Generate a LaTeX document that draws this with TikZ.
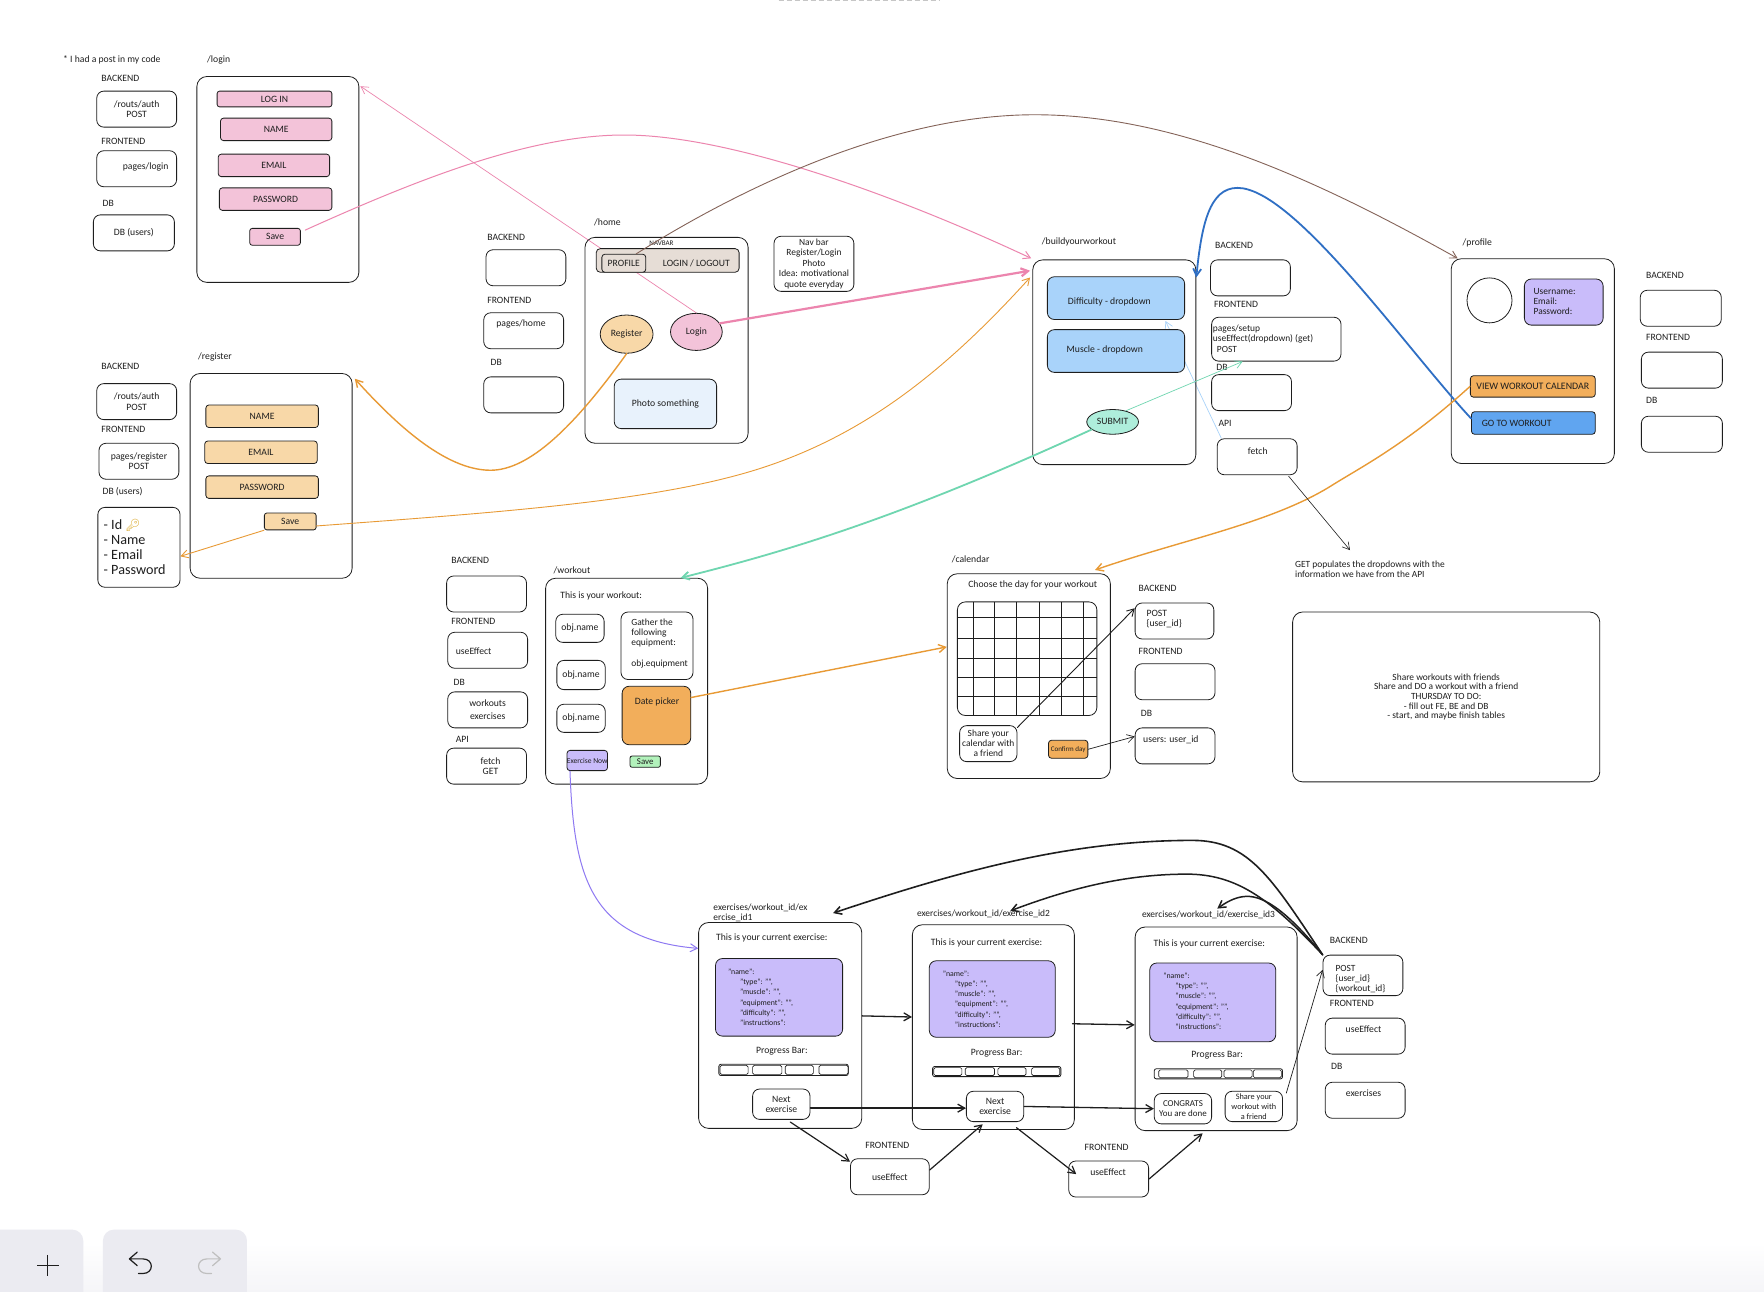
\documentclass[tikz,border=0pt]{standalone}
\usepackage{fontspec}
\setmainfont[Scale=1.18]{Carlito}
\newfontfamily\emojifont{Noto Emoji}
\usetikzlibrary{arrows.meta,calc,shapes.geometric}
\pgfdeclarelayer{bg}
\pgfsetlayers{bg,main}
\definecolor{ink}{HTML}{1E1E1E}
\definecolor{pinkf}{HTML}{F3C3D9}
\definecolor{peachf}{HTML}{F8D8A8}
\definecolor{navf}{HTML}{E6DDD6}
\definecolor{paleb}{HTML}{E8F2FC}
\definecolor{blues}{HTML}{A9D3FA}
\definecolor{mint}{HTML}{AEEEDB}
\definecolor{lilac}{HTML}{C9BCFA}
\definecolor{orangef}{HTML}{F2AE5B}
\definecolor{bluef}{HTML}{60A5F0}
\definecolor{greenf}{HTML}{B2F2BB}
\definecolor{pinkl}{HTML}{EC85AE}
\definecolor{orangel}{HTML}{E89A35}
\definecolor{brownl}{HTML}{846358}
\definecolor{bluel}{HTML}{2F6FC4}
\definecolor{greenl}{HTML}{6FD6B0}
\definecolor{purplel}{HTML}{8E79F2}
\definecolor{lightbl}{HTML}{A9D3FA}
\definecolor{keygold}{HTML}{D9A521}
\definecolor{tool}{HTML}{EBEBF1}
\tikzset{
  boxs/.style={draw=ink,line width=0.8pt,rounded corners=7pt,inner sep=0pt},
  frames/.style={boxs,rounded corners=10pt},
  txt/.style={inner sep=0pt,text=ink,align=center,font=\fontsize{8.2}{10.4}\selectfont},
  txtl/.style={txt,align=left},
  oval/.style={ellipse,draw=ink,line width=0.8pt,inner sep=0pt},
  conn/.style={-{Straight Barb[length=7pt,width=8pt]},line cap=round},
}
\newcommand{\bx}[7][]{%
  \node[#6,minimum width={(#4-#2)*1.125pt},minimum height={(#5-#3)*1.125pt}] (#1name) at ({(#2+#4)/2},{(#3+#5)/2}) {};}
\renewcommand{\bx}[8][]{%
  \node[#7,minimum width={(#5-#3)*1.125pt},minimum height={(#6-#4)*1.125pt}] (#2) at ({(#3+#5)/2},{(#4+#6)/2}) {};
  \node[txt,#1] (#2t) at (#2.center) {#8};}
\newcommand{\tx}[6][]{\node[txt,anchor=#5,#1] (#2) at (#3,#4) {#6};}
\newcommand{\codetext}{"name":\\
\hspace*{12pt}"type": "",\\
\hspace*{12pt}"muscle": "",\\
\hspace*{12pt}"equipment": "",\\
\hspace*{12pt}"difficulty": "",\\
\hspace*{12pt}"instructions":}
\begin{document}
\begin{tikzpicture}[x=1.125pt,y=-1.125pt]
\useasboundingbox (0,0) rectangle (1568,1148.44);
\begin{pgfonlayer}{bg}
\fill[white] (0,0) rectangle (1568,1148.44);
\shade[top color=white,bottom color=tool!50] (0,1105) rectangle (1568,1148.44);
\draw[gray!45,line width=1.4pt,dash pattern=on 5pt off 3pt] (692,0.6) -- (835,0.6);
\end{pgfonlayer}

% ---- toolbar
\fill[tool,rounded corners=11pt] (-20,1093) rectangle (74,1170);
\fill[tool,rounded corners=11pt] (91.5,1093) rectangle (219.5,1170);
\draw[ink,line width=1.2pt] (33,1125) -- (52,1125) (42.5,1115.5) -- (42.5,1134.5);
\draw[ink,line width=1.2pt,line cap=round,line join=round] (122,1113) -- (115,1119) -- (122,1125) (115,1119) -- (127,1119) .. controls (137,1119) and (137,1132) .. (127,1132) -- (123,1132);
\draw[gray!50,line width=1.2pt,line cap=round,line join=round] (189,1113) -- (196,1119) -- (189,1125) (196,1119) -- (184,1119) .. controls (174,1119) and (174,1132) .. (184,1132) -- (188,1132);

% ---- login column
\tx{note1}{56}{53}{west}{* I had a post in my code}
\tx{lblogin}{184}{53}{west}{/login}
\tx{la1}{90}{70}{west}{BACKEND}
\bx{lbe}{86}{81}{157}{113}{boxs}{/routs/auth\\POST}
\tx{la2}{90}{126}{west}{FRONTEND}
\bx{lfe}{86}{134}{157}{166}{boxs}{}
\tx{lfet}{109}{148}{west}{pages/login}
\tx{la3}{91}{181}{west}{DB}
\bx{ldb}{83}{191}{155}{223}{boxs}{DB (users)}
\bx{flogin}{175}{68}{319}{251}{frames}{}
\bx{llog}{193}{81}{295}{95}{boxs,fill=pinkf,rounded corners=2.5pt}{LOG IN}
\bx{lname}{196}{105}{295}{125}{boxs,fill=pinkf,rounded corners=3pt}{NAME}
\bx{lmail}{194}{137}{293}{157}{boxs,fill=pinkf,rounded corners=3pt}{EMAIL}
\bx{lpass}{195}{167}{295}{187}{boxs,fill=pinkf,rounded corners=3pt}{PASSWORD}
\bx{lsave}{222}{203}{267}{218}{boxs,fill=pinkf,rounded corners=2.5pt}{Save}

% ---- register column
\tx{lbreg}{176}{317}{west}{/register}
\tx{ra1}{90}{326}{west}{BACKEND}
\bx{rbe}{86}{341}{157}{373}{boxs}{/routs/auth\\POST}
\tx{ra2}{90}{382}{west}{FRONTEND}
\bx{rfe}{88}{394}{159}{426}{boxs}{pages/register\\POST}
\tx{ra3}{91}{437}{west}{DB (users)}
\bx{keybox}{87}{451}{160}{522}{boxs}{}
\node[txtl,anchor=west,font=\fontsize{12}{15}\selectfont] (keytext) at (92,486) {- Id {\emojifont\textcolor{keygold}{🔑}}\\- Name\\- Email\\- Password};
\bx{freg}{169}{332}{313}{514}{frames}{}
\bx{rname}{183}{360}{283}{380}{boxs,fill=peachf,rounded corners=3pt}{NAME}
\bx{rmail}{182}{392}{282}{412}{boxs,fill=peachf,rounded corners=3pt}{EMAIL}
\bx{rpass}{183}{423}{283}{443}{boxs,fill=peachf,rounded corners=3pt}{PASSWORD}
\bx{rsave}{235}{456}{281}{471}{boxs,fill=peachf,rounded corners=2.5pt}{Save}

% ---- home
\tx{lbhome}{528}{198}{west}{/home}
\tx{ha1}{433}{211}{west}{BACKEND}
\bx{hbe}{432}{222}{503}{254}{boxs}{}
\tx{ha2}{433}{267}{west}{FRONTEND}
\bx{hfe}{430}{278}{501}{310}{boxs}{}
\tx{hfet}{441}{288}{west}{pages/home}
\tx{ha3}{436}{322}{west}{DB}
\bx{hdb}{430}{335}{501}{367}{boxs}{}
\bx{fhome}{520}{211}{665}{394}{frames}{}
\node[oval,fill=peachf,minimum width={47*1.125pt},minimum height={34*1.125pt}] (btnreg) at (557,297) {};
\node[txt] (btnregt) at (btnreg.center) {Register};
\node[oval,fill=pinkf,minimum width={46*1.125pt},minimum height={33*1.125pt}] (btnlogin) at (619,295) {};
\node[txt] (btnlogint) at (btnlogin.center) {Login};
\bx{photo}{546}{337}{637}{381}{boxs,fill=paleb}{Photo something}
\bx[font=\fontsize{8}{10.6}\selectfont]{navnote}{688}{210}{759}{259}{boxs}{Nav bar\\Register/Login\\Photo\\Idea: motivational\\quote everyday}

% thin pink passes behind the navbar
\begin{pgfonlayer}{bg}
\draw[conn,pinkl,line width=0.7pt] (btnlogin.north) -- ([shift={(1,9)}]flogin.north east);
\end{pgfonlayer}
\bx{navb}{530}{221}{657}{242}{boxs,fill=navf,rounded corners=4pt}{}
\tx[font=\fontsize{6}{8}\selectfont]{navt}{588}{216.5}{center}{NAVBAR}
\bx{prof}{535}{226}{574}{242}{boxs,fill=navf,rounded corners=3pt}{PROFILE}
\tx{logout}{619}{234}{center}{LOGIN / LOGOUT}

% ---- build your workout
\tx{lbbuild}{926}{215}{west}{/buildyourworkout}
\bx{fbuild}{918}{231}{1063}{413}{frames}{}
\tx{ba1}{1080}{218}{west}{BACKEND}
\bx{bbe}{1076}{231}{1147}{263}{boxs}{}
\tx{ba2}{1079}{271}{west}{FRONTEND}
\bx{setup}{1077}{282}{1192}{321}{boxs}{}
\node[txtl,anchor=west,font=\fontsize{8}{10.2}\selectfont] (setupt) at (1078,301) {pages/setup\\useEffect(dropdown) (get)\\\hspace*{4pt}POST};
\tx{ba3}{1081}{327}{west}{DB}
\bx{bdb}{1077}{333}{1148}{365}{boxs}{}
\tx{ba4}{1083}{376}{west}{API}
\bx{fetch}{1082}{390}{1153}{422}{boxs}{}
\tx{fetcht}{1118}{401}{center}{fetch}
\coordinate (getend) at (1200,489);
\bx{diff}{931}{246}{1053}{284}{boxs,fill=blues}{}
\tx{difft}{949}{268}{west}{Difficulty - dropdown}
\begin{pgfonlayer}{bg}
\draw[conn,lightbl,line width=0.7pt] ([shift={(4,0)}]fetch.north west) -- ([shift={(44,1)}]diff.south);
\end{pgfonlayer}
\bx{muscle}{931}{293}{1053}{331}{boxs,fill=blues}{}
\tx{musclet}{948}{311}{west}{Muscle - dropdown}
\node[txtl,anchor=west,font=\fontsize{8}{10.2}\selectfont] (gettext) at (1151,506) {GET populates the dropdowns with the\\information we have from the API};

% ---- profile
\tx{lbprof}{1300}{216}{west}{/profile}
\bx{fprof}{1290}{230}{1435}{412}{frames}{}
\node[oval,minimum width={40*1.125pt},minimum height={40*1.125pt}] (avatar) at (1324,267) {};
\bx{udata}{1355}{248}{1425}{289}{boxs,fill=lilac}{}
\node[txtl,anchor=west,font=\fontsize{8}{10.2}\selectfont] (udatat) at (1363,268) {Username:\\Email:\\Password:};
\bx[font=\fontsize{8.4}{9}\selectfont]{view}{1307}{334}{1418}{353}{boxs,fill=orangef,rounded corners=3pt}{VIEW WORKOUT CALENDAR}
\bx{go}{1308}{366}{1418}{386}{boxs,fill=bluef,rounded corners=3pt}{}
\tx{got}{1317}{376}{west}{GO TO WORKOUT}
\tx{pa1}{1463}{245}{west}{BACKEND}
\bx{pbe}{1458}{258}{1530}{290}{boxs}{}
\tx{pa2}{1463}{300}{west}{FRONTEND}
\bx{pfe}{1459}{313}{1531}{345}{boxs}{}
\tx{pa3}{1463}{356}{west}{DB}
\bx{pdb}{1459}{370}{1531}{402}{boxs}{}

% ---- workout
\tx{wa1}{401}{498}{west}{BACKEND}
\bx{wbe}{397}{512}{468}{544}{boxs}{}
\tx{wa2}{401}{552}{west}{FRONTEND}
\bx{wfe}{398}{562}{469}{594}{boxs}{}
\tx{wfet}{405}{579}{west}{useEffect}
\tx{wa3}{403}{607}{west}{DB}
\bx[font=\fontsize{8.2}{13}\selectfont]{wdb}{398}{615}{469}{647}{boxs}{workouts\\exercises}
\tx{wa4}{405}{657}{west}{API}
\bx{wapi}{397}{665}{468}{697}{boxs}{}
\tx{wapit}{436}{681}{center}{fetch\\GET}
\tx{lbwork}{492}{507}{west}{/workout}
\bx{fwork}{485}{514}{629}{697}{frames}{}
\tx{wtitle}{498}{530}{west}{This is your workout:}
\bx{ob1}{494}{546}{537}{571}{boxs}{obj.name}
\bx{ob2}{495}{587}{538}{613}{boxs}{obj.name}
\bx{ob3}{495}{626}{538}{651}{boxs}{obj.name}
\bx{gather}{552}{544}{616}{604}{boxs}{}
\node[txtl,anchor=west,font=\fontsize{8}{10.2}\selectfont] (gathert) at (561,572) {Gather the\\following\\equipment:\\~\\obj.equipment};
\bx{date}{553}{610}{614}{662}{boxs,fill=orangef}{}
\tx{datet}{584}{624}{center}{Date picker}
\bx[font=\fontsize{6.4}{8}\selectfont]{exnow}{504}{667}{540}{685}{boxs,fill=lilac,rounded corners=3pt}{Exercise Now}
\bx[font=\fontsize{7.5}{8}\selectfont]{wsave}{560}{672}{587}{682}{boxs,fill=greenf,rounded corners=2pt}{Save}

% ---- calendar
\tx{lbcal}{846}{497}{west}{/calendar}
\bx{fcal}{842}{510}{987}{692}{frames}{}
\tx{caltitle}{918}{520}{center}{Choose the day for your workout}
\bx{grid}{851}{535}{975}{636}{boxs,rounded corners=8pt}{}
\foreach \gx in {865,884,903,924,943,963} \draw[ink,line width=0.7pt] (\gx,535) -- (\gx,636);
\foreach \gy in {549,567,585,602,619} \draw[ink,line width=0.7pt] (851,\gy) -- (975,\gy);
\bx[font=\fontsize{8}{10}\selectfont]{sharec}{853}{645}{904}{677}{boxs}{Share your\\calendar with\\a friend}
\bx[font=\fontsize{6}{8}\selectfont]{confirm}{932}{658}{967}{674}{boxs,fill=orangef,rounded corners=3pt}{Confirm day}
\tx{ca1}{1012}{523}{west}{BACKEND}
\bx{post}{1009}{536}{1079}{568}{boxs}{}
\node[txtl,anchor=west] (postt) at (1019,550) {POST\\\{user\_id\}};
\tx{ca2}{1012}{579}{west}{FRONTEND}
\bx{cfe}{1009}{590}{1080}{622}{boxs}{}
\tx{ca3}{1014}{634}{west}{DB}
\bx{users}{1009}{647}{1080}{679}{boxs}{}
\tx{userst}{1016}{658}{west}{users: user\_id}
\bx[font=\fontsize{8}{9.7}\selectfont]{notes}{1149}{544}{1422}{695}{frames}{Share workouts with friends\\Share and DO a workout with a friend\\THURSDAY TO DO:\\- fill out FE, BE and DB\\- start, and maybe finish tables}

% ---- exercise screens
\node[txtl,anchor=west,font=\fontsize{8}{10}\selectfont] (lbe1) at (634,811.5) {exercises/workout\_id/ex\\ercise\_id1};
\tx[font=\fontsize{8}{10}\selectfont]{lbe2}{815}{812}{west}{exercises/workout\_id/exercise\_id2}
\tx[font=\fontsize{8}{10}\selectfont]{lbe3}{1015}{813.5}{west}{exercises/workout\_id/exercise\_id3}

\bx{f1}{621}{820}{766}{1003}{frames}{}
\tx{t1}{686}{834}{center}{This is your current exercise:}
\bx{p1}{636}{852}{749}{921}{boxs,fill=lilac}{}
\node[txtl,anchor=west,font=\fontsize{6.6}{10.2}\selectfont] (c1) at (647,886.5) {\codetext};
\tx{pb1}{695}{934}{center}{Progress Bar:}
\bx{b1}{639}{946}{754}{956}{boxs,rounded corners=2pt}{}
\foreach \cx/\cw in {640/25,669/26,698/25,728/26} \draw[ink,line width=0.7pt,rounded corners=1.5pt] (\cx,947) rectangle (\cx+\cw,955);
\bx{n1}{669}{968}{720}{995}{boxs}{Next\\exercise}

\bx{f2}{811}{822}{955}{1004}{frames}{}
\tx{t2}{877}{838}{center}{This is your current exercise:}
\bx{p2}{826}{854}{938}{922}{boxs,fill=lilac}{}
\node[txtl,anchor=west,font=\fontsize{6.6}{10.2}\selectfont] (c2) at (838,888) {\codetext};
\tx{pb2}{886}{936}{center}{Progress Bar:}
\bx{b2}{829}{948}{943}{957}{boxs,rounded corners=2pt}{}
\foreach \cx/\cw in {830/25,858/26,887/25,917/25} \draw[ink,line width=0.7pt,rounded corners=1.5pt] (\cx,949) rectangle (\cx+\cw,956);
\bx{n2}{859}{970}{910}{997}{boxs}{Next\\exercise}

\bx{f3}{1009}{824}{1153}{1005}{frames}{}
\tx{t3}{1075}{839}{center}{This is your current exercise:}
\bx{p3}{1022}{856}{1134}{926}{boxs,fill=lilac}{}
\node[txtl,anchor=west,font=\fontsize{6.6}{10.2}\selectfont] (c3) at (1034,890) {\codetext};
\tx{pb3}{1082}{938}{center}{Progress Bar:}
\bx{b3}{1026}{950}{1140}{959}{boxs,rounded corners=2pt}{}
\foreach \cx/\cw in {1030/26,1061/25,1088/25,1114/25} \draw[ink,line width=0.7pt,rounded corners=1.5pt] (\cx,951) rectangle (\cx+\cw,958);
\bx[font=\fontsize{7.6}{10.2}\selectfont]{cong}{1026}{972}{1077}{999}{boxs}{CONGRATS\\You are done}
\bx[font=\fontsize{7}{9.8}\selectfont]{share2}{1089}{970}{1140}{997}{boxs}{Share your\\workout with\\a friend}

\tx{xa1}{1182}{836}{west}{BACKEND}
\bx{post2}{1176}{849}{1247}{885}{boxs}{}
\node[txtl,anchor=west,font=\fontsize{8}{10}\selectfont] (post2t) at (1187,870) {POST\\\{user\_id\}\\\{workout\_id\}};
\tx{xa2}{1182}{892}{west}{FRONTEND}
\bx{xfe}{1178}{905}{1249}{937}{boxs}{}
\tx{xfet}{1212}{915}{center}{useEffect}
\tx{xa3}{1183}{948}{west}{DB}
\bx{xdb}{1178}{962}{1249}{994}{boxs}{}
\tx{xdbt}{1212}{972}{center}{exercises}
\tx{fl1}{769}{1018}{west}{FRONTEND}
\bx{ue1}{756}{1030}{826}{1062}{boxs}{useEffect}
\tx{fl2}{964}{1020}{west}{FRONTEND}
\bx{ue2}{950}{1032}{1021}{1064}{boxs}{}
\tx{ue2t}{985}{1042}{center}{useEffect}

% ---- coloured connectors
\draw[conn,pinkl,line width=1pt] ([shift={(4,-6)}]lsave.east) .. controls (370,160) and (470,120) .. (555,120) .. controls (650,120) and (800,175) .. ([shift={(-1,-1)}]fbuild.north west);
\draw[conn,pinkl,line width=2.2pt] (btnlogin.20) -- ([shift={(-2,10)}]fbuild.north west);
\draw[conn,orangel,line width=1.4pt] (btnreg.south) .. controls (510,380) and (470,418) .. (436,418) .. controls (395,418) and (350,375) .. ([shift={(2,5)}]freg.north east);
\draw[conn,orangel,line width=0.9pt] (rsave.south west) -- ([shift={(0,8)}]keybox.east);
\draw[conn,orangel,line width=0.9pt] ([shift={(0,4)}]rsave.east) .. controls (450,455) and (590,445) .. (680,415) .. controls (770,385) and (840,330) .. ([shift={(-2,16)}]fbuild.north west);
\draw[conn,brownl,line width=0.9pt] ([shift={(11,0)}]prof.north) .. controls (670,160) and (800,102) .. (920,102) .. controls (1050,102) and (1180,165) .. ([shift={(6,0)}]fprof.north west);
\draw[conn,bluel,line width=1.8pt] ([shift={(0,-4)}]go.west) .. controls (1250,310) and (1150,167) .. (1100,167) .. controls (1075,167) and (1068,200) .. ([shift={(0,16)}]fbuild.north east);
\draw[conn,orangel,line width=1.4pt] (view.west) .. controls (1250,395) and (1210,415) .. (1183,432) .. controls (1130,465) and (1050,480) .. ([shift={(-14,-3)}]fcal.north east);
\draw[conn,ink,line width=0.6pt] ([shift={(28,1)}]fetch.south) -- (getend);

\node[oval,fill=mint,minimum width={46*1.125pt},minimum height={22*1.125pt}] (submit) at (989,375) {};
\node[txt] (submitt) at (submit.center) {SUBMIT};
\draw[conn,greenl,line width=1.8pt] (submit.200) .. controls (800,460) and (700,490) .. ([shift={(48,0)}]fwork.north);
\draw[conn,greenl,line width=0.7pt] (submit.40) -- ([shift={(-30,0)}]setup.south);

\draw[conn,orangel,line width=1.4pt] ([shift={(0,-16)}]date.east) -- ([shift={(0,-26)}]fcal.west);
\draw[conn,purplel,line width=1pt] ([shift={(3,0)}]exnow.south west) .. controls (510,780) and (525,835) .. ([shift={(0,-68.5)}]f1.west);

% ---- dark connectors
\draw[conn,ink,line width=0.9pt] ([shift={(0,2)}]sharec.north east) -- ([shift={(0,5)}]post.north west);
\draw[conn,ink,line width=0.7pt] (confirm.east) -- ([shift={(0,8)}]users.north west);
\draw[conn,ink,line width=1.3pt] ([shift={(0,-8.5)}]f1.east) -- ([shift={(0,-9)}]f2.west);
\draw[conn,ink,line width=1.3pt] ([shift={(-2,-3)}]f2.east) -- ([shift={(0,-3.5)}]f3.west);
\draw[conn,ink,line width=1.3pt] ([shift={(0,3.5)}]n1.east) -- ([shift={(0,1.5)}]n2.west);
\draw[conn,ink,line width=1.3pt] (n2.east) -- (cong.west);
\draw[conn,ink,line width=1.2pt] ([shift={(8,2)}]n1.south) -- ([shift={(0,3)}]ue1.north west);
\draw[conn,ink,line width=1.2pt] ([shift={(0,-6)}]ue1.east) -- ([shift={(-11,2)}]n2.south);
\draw[conn,ink,line width=1.2pt] ([shift={(19,5)}]n2.south) -- ([shift={(7,12)}]ue2.north west);
\draw[conn,ink,line width=1.2pt] (ue2.east) -- ([shift={(-12,2)}]f3.south);
\draw[conn,ink,line width=0.7pt] ([shift={(3,2)}]share2.north east) -- ([shift={(0,-5)}]post2.west);
\draw[conn,ink,line width=1.6pt] (post2.north west) .. controls (1130,780) and (1110,747) .. (1060,747) .. controls (950,747) and (850,775) .. ([shift={(47,-8)}]f1.north);
\draw[conn,ink,line width=1.5pt] (post2.north west) .. controls (1130,800) and (1100,777) .. (1055,777) .. controls (1000,777) and (950,790) .. ([shift={(15,-12)}]f2.north);
\draw[conn,ink,line width=1.5pt] (post2.north west) .. controls (1140,805) and (1120,795) .. (1105,797) .. controls (1097,798) and (1090,802) .. ([shift={(1,-16)}]f3.north);
\end{tikzpicture}
\end{document}
